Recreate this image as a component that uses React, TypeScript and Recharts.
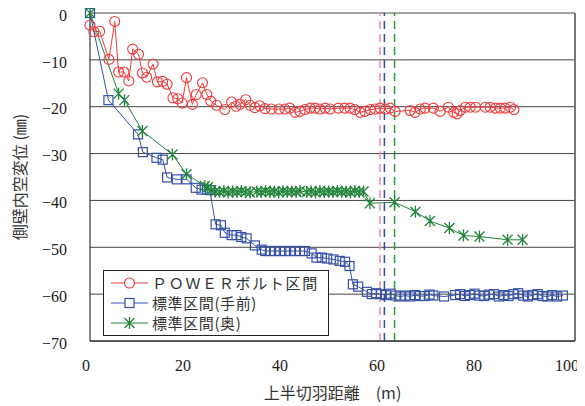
import {
  LineChart,
  Line,
  XAxis,
  YAxis,
  CartesianGrid,
  ReferenceLine,
  Legend,
  Label,
} from 'recharts';

// POWERボルト区間
const powerX = [
  0, 0.8, 2.0, 3.9, 5.1, 5.9, 7.0, 8.0, 8.8, 10.0, 10.8, 11.7, 13.0, 13.9, 15.0, 15.9, 17.1, 18.1, 19.0, 19.9,
  21.1, 21.9, 23.2, 24.1, 24.9, 26.1, 27.8, 29.2, 30.1, 30.9, 32.1, 33.0, 34.0, 35.0, 36.1, 37.4, 39.0, 40.2,
  41.2, 42.3, 43.3, 44.3, 45.4, 46.4, 47.4, 48.5, 49.5, 51.2, 52.5, 53.6, 54.6, 55.7, 56.7, 57.8, 58.8, 59.8,
  60.9, 61.9, 62.9, 66.0, 67.0, 68.1, 69.1, 70.8, 72.2, 73.9, 75.0, 75.7, 76.3, 77.4, 78.4, 79.5, 81.5, 82.5,
  83.6, 84.6, 85.6, 86.7, 87.4,
];
const powerY = [
  -2.6, -4.0, -3.9, -9.9, -1.8, -12.6, -12.6, -14.5, -7.7, -8.8, -12.8, -13.7, -10.9, -14.7, -14.6, -15.2, -18.1,
  -18.3, -19.2, -13.8, -19.5, -17.4, -14.9, -17.4, -18.8, -19.7, -20.6, -19.0, -19.9, -19.5, -18.5, -19.7, -20.2,
  -19.8, -20.4, -20.5, -20.5, -20.5, -20.3, -21.2, -21.0, -20.6, -20.3, -20.3, -20.5, -20.3, -20.5, -20.3, -20.3,
  -20.3, -20.6, -21.2, -21.0, -20.6, -20.5, -20.3, -20.5, -20.3, -21.0, -20.8, -21.2, -20.5, -20.3, -20.3, -21.0,
  -20.1, -21.2, -21.5, -20.8, -20.1, -20.1, -20.1, -20.1, -20.1, -20.3, -20.3, -20.3, -20.1, -20.6,
];

// 標準区間(手前)
const frontX = [
  0, 3.8, 9.9, 10.9, 13.7, 15.0, 15.9, 17.9, 19.9, 21.8, 23.0, 24.1, 24.7, 25.9, 27.0, 27.8, 29.2, 30.2, 31.2,
  32.3, 34.0, 35.4, 36.1, 37.1, 38.1, 39.2, 40.2, 41.3, 42.3, 43.3, 44.3, 45.7, 46.7, 47.8, 48.9, 50.2, 51.5,
  52.6, 53.5, 54.2, 55.3, 57.1, 58.1, 59.0, 60.0, 61.0, 62.0, 63.0, 64.0, 65.0, 66.0, 67.0, 68.0, 69.0, 70.0,
  70.8, 73.0, 75.3, 76.3, 77.3, 78.3, 79.3, 80.3, 81.3, 82.3, 83.3, 84.3, 85.3, 86.3, 87.3, 88.3, 89.3, 90.3,
  91.3, 92.3, 93.3, 94.3, 95.3, 96.3, 97.5,
];
const frontY = [
  0, -18.6, -25.9, -29.7, -30.9, -31.3, -35.1, -35.5, -35.5, -37.3, -37.7, -37.7, -37.8, -45.1, -45.3, -46.9,
  -47.4, -47.4, -47.8, -48.1, -49.6, -50.5, -50.8, -50.8, -50.8, -50.8, -50.8, -50.8, -50.8, -50.8, -50.8, -51.3,
  -52.2, -52.2, -52.4, -52.6, -52.9, -53.1, -54.0, -57.9, -58.4, -59.5, -60.0, -59.8, -60.0, -60.2, -59.9, -60.3,
  -60.5, -60.3, -60.5, -60.2, -60.4, -60.4, -60.1, -60.3, -60.5, -60.2, -60.0, -60.4, -60.2, -59.9, -60.3, -60.4,
  -60.1, -60.0, -60.5, -60.2, -60.4, -60.0, -59.8, -60.3, -60.5, -60.2, -60.0, -60.4, -60.5, -60.2, -60.5, -60.3,
];

// 標準区間(奥)
const backX = [
  0, 5.9, 7.1, 10.8, 17.0, 19.9, 23.7, 24.3, 25.0, 25.8, 26.7, 27.6, 28.5, 29.4, 30.3, 31.2, 32.1, 33.0, 34.4,
  35.3, 36.2, 37.1, 38.0, 38.9, 39.8, 40.7, 41.6, 42.5, 43.3, 44.7, 45.6, 46.5, 47.4, 48.3, 49.2, 50.1, 51.0,
  51.9, 52.8, 53.7, 54.6, 55.5, 56.4, 57.7, 62.8, 67.1, 70.1, 74.1, 77.0, 80.3, 86.1, 89.2,
];
const backY = [
  0, -17.2, -18.6, -25.2, -30.2, -34.4, -36.9, -37.2, -37.8, -38.1, -38.2, -38.0, -38.3, -38.1, -38.2, -38.0,
  -38.2, -38.3, -38.1, -38.2, -38.0, -38.2, -38.1, -38.3, -38.0, -38.2, -38.1, -38.2, -38.0, -38.2, -38.1, -38.3,
  -38.0, -38.2, -38.1, -38.2, -38.0, -38.2, -38.1, -38.3, -38.0, -38.2, -38.1, -40.6, -40.4, -42.4, -44.4, -45.9,
  -47.5, -47.7, -48.4, -48.4,
];

// 区間終点 (POWERボルト, 手前, 奥)
const sectionEndX = [59.8, 60.7, 62.8];

const xTicks = [0, 20, 40, 60, 80, 100];
const yTicks = [0, -10, -20, -30, -40, -50, -60, -70];

const RED = '#f03a3a';
const BLUE = '#3450a8';
const GREEN = '#23843c';
const endColors = ['#f39090', '#3448b4', '#2a9a4a'];

const SERIF = "'Liberation Serif', 'DejaVu Serif', serif";
const CJK = "'Noto Sans CJK JP', sans-serif";

const toPoints = (xs: number[], ys: number[]) => xs.map((x, i) => ({ x, y: ys[i] }));

const powerData = toPoints(powerX, powerY);
const frontData = toPoints(frontX, frontY);
const backData = toPoints(backX, backY);

const CircleDot = (p: any) => (
  <circle key={`c-${p.index}`} cx={p.cx} cy={p.cy} r={5} fill="none" stroke={RED} strokeWidth={1.1} />
);

const SquareDot = (p: any) => (
  <rect
    key={`s-${p.index}`}
    x={p.cx - 4.5}
    y={p.cy - 4.5}
    width={9}
    height={9}
    fill="none"
    stroke={BLUE}
    strokeWidth={1.2}
  />
);

const starPath = (cx: number, cy: number) =>
  `M${cx - 5},${cy - 5}L${cx + 5},${cy + 5}M${cx - 5},${cy + 5}L${cx + 5},${cy - 5}M${cx},${cy - 6}L${cx},${cy + 6}`;

const StarDot = (p: any) => (
  <path key={`x-${p.index}`} d={starPath(p.cx, p.cy)} stroke={GREEN} strokeWidth={1.3} fill="none" />
);

const legendRows = [
  { name: 'ＰＯＷＥＲボルト区間', color: RED, kind: 'circle' },
  { name: '標準区間(手前)', color: BLUE, kind: 'square' },
  { name: '標準区間(奥)', color: GREEN, kind: 'star' },
];

const LegendBox = () => (
  <div
    style={{
      width: 226,
      height: 66,
      boxSizing: 'border-box',
      border: '1px solid #222',
      background: '#fff',
      paddingTop: 2,
    }}
  >
    {legendRows.map((r) => (
      <div key={r.name} style={{ display: 'flex', alignItems: 'center', height: 20, overflow: 'hidden' }}>
        <svg width={48} height={20} style={{ display: 'block', flex: 'none' }}>
          <line x1={7} y1={10} x2={44} y2={10} stroke={r.color} strokeWidth={1} />
          {r.kind === 'circle' && <circle cx={25.5} cy={10} r={5} fill="#fff" stroke={r.color} strokeWidth={1.1} />}
          {r.kind === 'square' && (
            <rect x={21} y={5.5} width={9} height={9} fill="#fff" stroke={r.color} strokeWidth={1.2} />
          )}
          {r.kind === 'star' && <path d={starPath(25.5, 10)} stroke={r.color} strokeWidth={1.3} />}
        </svg>
        <span
          style={{
            fontFamily: CJK,
            fontSize: 15,
            color: '#333',
            lineHeight: '18px',
            letterSpacing: r.kind === 'circle' ? 1.7 : 0.6,
            whiteSpace: 'nowrap',
          }}
        >
          {r.name}
        </span>
      </div>
    ))}
  </div>
);

const YTitle = (props: any) => {
  const { viewBox } = props;
  const cx = viewBox.x + 11;
  const cy = viewBox.y + viewBox.height / 2;
  return (
    <text
      x={cx}
      y={cy}
      transform={`rotate(-90 ${cx} ${cy})`}
      textAnchor="middle"
      dominantBaseline="central"
      fontFamily={CJK}
      fontSize={16}
      fill="#333"
    >
      側壁内空変位 (㎜)
    </text>
  );
};

const fmtY = (v: number) => (v < 0 ? `−${-v}` : `${v}`);

const XTick = ({ x, y, payload }: any) => (
  <text
    x={x - (payload.value === 100 ? 8 : 4)}
    y={y}
    dy="0.71em"
    textAnchor="middle"
    fontFamily={SERIF}
    fontSize={16}
    fill="#222"
  >
    {payload.value}
  </text>
);

const YTick = ({ x, y, payload }: any) => (
  <text x={x} y={y + 2} dy="0.355em" textAnchor="end" fontFamily={SERIF} fontSize={16} fill="#222">
    {fmtY(payload.value)}
  </text>
);

export default function App() {
  return (
    <LineChart width={577} height={398} margin={{ top: 5, right: 10, bottom: 5, left: 0 }}>
      <CartesianGrid horizontal vertical={false} stroke="#444" />
      <XAxis
        type="number"
        dataKey="x"
        domain={[0, 100]}
        ticks={xTicks}
        interval={0}
        height={60}
        tickLine={false}
        tickSize={6}
        tickMargin={13}
        axisLine={{ stroke: '#111' }}
        tick={XTick}
      >
        <Label
          value="上半切羽距離　(m)"
          position="insideBottom"
          offset={2}
          style={{ fontFamily: CJK, fontSize: 16, fill: '#333' }}
        />
      </XAxis>
      <XAxis
        xAxisId="top"
        orientation="top"
        type="number"
        domain={[0, 100]}
        ticks={xTicks}
        interval={0}
        height={0}
        mirror
        tickSize={5}
        tickFormatter={() => ''}
        axisLine={{ stroke: '#333' }}
        tickLine={{ stroke: '#333' }}
      />
      <YAxis
        type="number"
        domain={[-70, 0]}
        ticks={yTicks}
        interval={0}
        width={82}
        tickLine={false}
        tickSize={6}
        tickMargin={17}
        axisLine={{ stroke: '#111' }}
        tick={YTick}
      >
        <Label content={YTitle} />
      </YAxis>
      <ReferenceLine x={100} stroke="#777" strokeWidth={2} />
      <Line
        data={powerData}
        dataKey="y"
        name="ＰＯＷＥＲボルト区間"
        stroke={RED}
        strokeWidth={1}
        dot={CircleDot}
        isAnimationActive={false}
      />
      <Line
        data={frontData}
        dataKey="y"
        name="標準区間(手前)"
        stroke={BLUE}
        strokeWidth={1}
        dot={SquareDot}
        isAnimationActive={false}
      />
      <Line
        data={backData}
        dataKey="y"
        name="標準区間(奥)"
        stroke={GREEN}
        strokeWidth={1}
        dot={StarDot}
        isAnimationActive={false}
      />
      {sectionEndX.map((x, i) => (
        <ReferenceLine key={x} x={x} stroke={endColors[i]} strokeWidth={1.5} strokeDasharray="8 5" />
      ))}
      <Legend
        layout="vertical"
        align="center"
        verticalAlign="middle"
        content={LegendBox}
        wrapperStyle={{ left: 95, top: 262, width: 226, height: 66 }}
      />
    </LineChart>
  );
}
